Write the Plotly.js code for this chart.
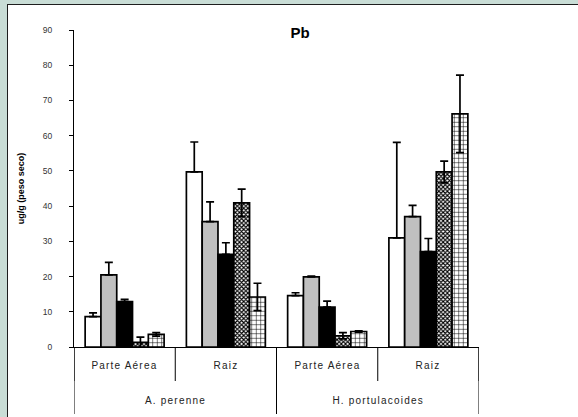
<!DOCTYPE html>
<html>
<head>
<meta charset="utf-8">
<script src="https://cdn.plot.ly/plotly-3.0.1.min.js"></script>
<style>
  html, body { margin: 0; padding: 0; width: 578px; height: 417px; overflow: hidden; background: #c9ddd6; }
  #panel { position: absolute; left: 7px; top: 4px; right: 0; bottom: 0; background: #ffffff;
           border-left: 1px solid #1e1e1e; border-top: 1px solid #1e1e1e; }
  #chart { position: absolute; left: 0; top: 0; width: 578px; height: 417px; }
  #chart .annotation-text { letter-spacing: 1.2px; }
</style>
</head>
<body>
<div id="panel"></div>
<div id="chart"></div>
<script>
// ---- data ----
const species = ["A. perenne", "A. perenne", "H. portulacoides", "H. portulacoides"];
const parts   = ["Parte Aérea", "Raiz", "Parte Aérea", "Raiz"];

const s1Values = [8.6, 49.7, 14.6, 31.0];
const s1Err    = [1.1, 8.5, 0.8, 27.1];
const s2Values = [20.5, 35.6, 19.9, 37.0];
const s2Err    = [3.5, 5.6, 0.2, 3.2];
const s3Values = [12.9, 26.3, 11.3, 27.1];
const s3Err    = [0.6, 3.3, 1.7, 3.7];
const s4Values = [1.3, 40.9, 3.2, 49.7];
const s4Err    = [1.5, 3.9, 0.9, 3.1];
const s5Values = [3.6, 14.2, 4.4, 66.2];
const s5Err    = [0.5, 3.9, 0.2, 11.0];

const yTicks = [0, 10, 20, 30, 40, 50, 60, 70, 80, 90];
const chartTitle = "Pb";
const yTitle = "ug/g (peso seco)";

// ---- build ----
const cats = species.map((s, i) => s + " | " + parts[i]);
const zeros = cats.map(() => 0);
const lineStyle = { color: "#000", width: 1.7 };

function errPlusOnly(arr) {
  return { type: "data", symmetric: false, array: arr, arrayminus: zeros, color: "#000", thickness: 1.7, width: 4 };
}
function errSym(arr) {
  return { type: "data", symmetric: true, array: arr, color: "#000", thickness: 1.7, width: 4 };
}

const traces = [
  { name: "1", y: s1Values, err: errPlusOnly(s1Err), marker: { color: "#ffffff", line: lineStyle } },
  { name: "2", y: s2Values, err: errPlusOnly(s2Err), marker: { color: "#c0c0c0", line: lineStyle } },
  { name: "3", y: s3Values, err: errPlusOnly(s3Err), marker: { color: "#000000", line: lineStyle } },
  { name: "4", y: s4Values, err: errSym(s4Err), marker: { color: "#ffffff", line: lineStyle,
      pattern: { shape: "x", fgcolor: "#000", bgcolor: "#fff", size: 3, solidity: 0.6, fillmode: "replace" } } },
  { name: "5", y: s5Values, err: errSym(s5Err), marker: { color: "#ffffff", line: lineStyle,
      pattern: { shape: "+", fgcolor: "#000", bgcolor: "#fff", size: 4.5, solidity: 0.22, fillmode: "replace" } } }
].map(t => ({
  type: "bar", x: cats, y: t.y, name: t.name, marker: t.marker, error_y: t.err,
  hoverinfo: "skip"
}));

// dividers derived from category indices
const shapes = [];
for (let i = 0; i <= cats.length; i++) {
  shapes.push({ type: "line", xref: "x", yref: "paper", ysizemode: "pixel", yanchor: 0,
    x0: i - 0.5, x1: i - 0.5, y0: 0, y1: -34, line: { color: "#000", width: 1 } });
}
const speciesGroups = [];
species.forEach((s, i) => {
  const g = speciesGroups.find(g => g.name === s);
  if (g) g.end = i; else speciesGroups.push({ name: s, start: i, end: i });
});
const speciesBounds = new Set();
speciesGroups.forEach(g => { speciesBounds.add(g.start - 0.5); speciesBounds.add(g.end + 0.5); });
speciesBounds.forEach(b => {
  shapes.push({ type: "line", xref: "x", yref: "paper", ysizemode: "pixel", yanchor: 0,
    x0: b, x1: b, y0: 0, y1: -67, line: { color: "#000", width: 1 } });
});

const annFont = { family: "Liberation Sans, Arial, sans-serif", size: 10, color: "#222" };
const annotations = [];
parts.forEach((p, i) => {
  annotations.push({ x: i, xref: "x", y: 0, yref: "paper", yshift: -18, text: p, showarrow: false,
    xanchor: "center", yanchor: "middle", font: annFont });
});
speciesGroups.forEach(g => {
  annotations.push({ x: (g.start + g.end) / 2, xref: "x", y: 0, yref: "paper", yshift: -53, text: g.name,
    showarrow: false, xanchor: "center", yanchor: "middle", font: annFont });
});

const layout = {
  width: 578, height: 417,
  margin: { l: 74, r: 99, t: 30, b: 70, pad: 0 },
  paper_bgcolor: "rgba(0,0,0,0)", plot_bgcolor: "rgba(0,0,0,0)",
  showlegend: false,
  barmode: "group", bargap: 0.22, bargroupgap: 0,
  title: { text: "<b>" + chartTitle + "</b>", xref: "container", yref: "container",
    x: 300 / 578, y: 1 - 33 / 417, xanchor: "center", yanchor: "middle",
    font: { family: "Liberation Sans, Arial, sans-serif", size: 15, color: "#000" } },
  xaxis: { type: "category", range: [-0.5, cats.length - 0.5], showticklabels: false, ticks: "",
    showline: true, linecolor: "#000", linewidth: 1, showgrid: false, zeroline: false, fixedrange: true },
  yaxis: { range: [0, 90], tickvals: yTicks, ticktext: yTicks.map(String), ticks: "outside", ticklen: 4,
    tickcolor: "#000", tickwidth: 1, showline: true, linecolor: "#000", linewidth: 1,
    showgrid: false, zeroline: false, ticklabelstandoff: 15,
    tickfont: { family: "Liberation Sans, Arial, sans-serif", size: 8.5, color: "#333" },
    title: { text: "<b>" + yTitle + "</b>", standoff: 16,
      font: { family: "Liberation Sans, Arial, sans-serif", size: 9, color: "#000" } } },
  shapes: shapes,
  annotations: annotations
};

Plotly.newPlot("chart", traces, layout, { staticPlot: true, displayModeBar: false });
</script>
</body>
</html>
